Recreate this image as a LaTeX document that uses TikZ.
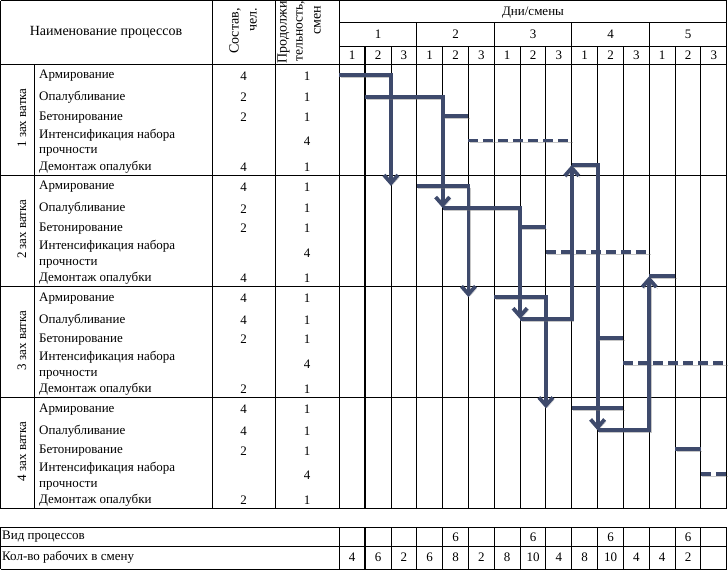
\documentclass[tikz,border=0pt]{standalone}
\usepackage{fontspec}
\setmainfont{Liberation Serif}
\usetikzlibrary{arrows.meta}
\definecolor{barc}{RGB}{62,74,108}
\begin{document}
\begin{tikzpicture}[x=1pt,y=-1pt,
  font=\fontsize{13}{15.7}\selectfont,
  grid/.style={line width=0.9pt, draw=black},
  thickgrid/.style={line width=2.2pt, draw=black},
  txt/.style={inner sep=0pt},
  hdr/.style={inner sep=0pt, font=\fontsize{14}{18}\selectfont},
  gl/.style={line width=3.8pt, draw=barc, line join=miter,
    preaction={draw=black!55, opacity=0.4, transform canvas={shift={(1.5pt,-2pt)}}}},
  arr/.style={gl, -{Straight Barb[length=8pt,width=14pt]}},
  dl/.style={gl, dash pattern=on 10pt off 5pt}]
\useasboundingbox (0,0) rectangle (728,570);

% ---------- main table lines ----------
\draw[grid] (0.6,0.6) -- (726.75,0.6);
\draw[grid] (339.3,22.7) -- (726.75,22.7);
\draw[grid] (339.3,46) -- (726.75,46);
\foreach \yy in {64,175.2,286.4,397.6,508.5} \draw[grid] (0.6,\yy) -- (726.75,\yy);
\draw[grid] (0.6,0.6) -- (0.6,508.5);
\draw[grid] (34.3,64) -- (34.3,508.5);
\draw[grid] (212.3,0.6) -- (212.3,508.5);
\draw[grid] (275,0.6) -- (275,508.5);
\draw[grid] (339.3,0.6) -- (339.3,508.5);
\draw[grid] (726.75,0.6) -- (726.75,508.5);

% ---------- bottom table lines ----------
\foreach \yy in {527.3,546,569.2} \draw[grid] (0.6,\yy) -- (726.75,\yy);
\draw[grid] (0.6,527.3) -- (0.6,569.2);
\draw[grid] (339.3,527.3) -- (339.3,569.2);
\draw[grid] (726.75,527.3) -- (726.75,569.2);

% ---------- left header ----------
\node[hdr] (hname) at (106,32) {Наименование процессов};
\node[hdr, rotate=90, align=right] (hsost) at (243,31) {Состав,\\чел.};
\begin{scope}
  \clip (275,0.6) rectangle (339.3,64);
  \node[hdr, rotate=90, anchor=west] (hprod1) at (283.5,63.5) {Продолжи};
  \node[hdr, rotate=90, anchor=west, font=\fontsize{13.5}{18}\selectfont] (hprod2) at (300.5,61.5) {тельность,};
  \node[hdr, rotate=90] (hprod3) at (317.5,20.5) {смен};
\end{scope}

% ---------- blocks ----------
\foreach \T/\sa/\sb/\sc/\sd [count=\i] in {64/4/2/2/4, 175.2/4/2/2/4, 286.4/4/4/2/2, 397.6/4/4/2/2} {
  \node[txt, rotate=90] (zah\i) at (22,{\T+54}) {\i\ зах ватка};
  \node[txt, anchor=west] (arm\i) at (39,{\T+11.8}) {Армирование};
  \node[txt, anchor=west] (opa\i) at (39,{\T+33.5}) {Опалубливание};
  \node[txt, anchor=west] (bet\i) at (39,{\T+53.2}) {Бетонирование};
  \node[txt, anchor=west, align=left] (int\i) at (39,{\T+78.8}) {Интенсификация набора\\прочности};
  \node[txt, anchor=west] (dem\i) at (39,{\T+102.8}) {Демонтаж опалубки};
  \node[txt] (sa\i) at (243.7,{\T+11.8}) {\sa};
  \node[txt] (sb\i) at (243.7,{\T+33.5}) {\sb};
  \node[txt] (sc\i) at (243.7,{\T+53.2}) {\sc};
  \node[txt] (sd\i) at (243.7,{\T+102.8}) {\sd};
  \node[txt] (pa\i) at (307.2,{\T+11.8}) {1};
  \node[txt] (pb\i) at (307.2,{\T+33.5}) {1};
  \node[txt] (pc\i) at (307.2,{\T+53.2}) {1};
  \node[txt] (pd\i) at (307.2,{\T+77.7}) {4};
  \node[txt] (pe\i) at (307.2,{\T+102.8}) {1};
}

\node[txt, anchor=west] (vid) at (2,536.8) {Вид процессов};
\node[txt, anchor=west] (kol) at (2,557) {Кол-во рабочих в смену};

% ---------- schedule grid ----------
\begin{scope}[xshift=339.3pt, x=25.83pt]
  \foreach \k in {2,4,5,7,8,10,11,13,14} \draw[grid] (\k,46) -- (\k,508.5);
  \foreach \k in {3,6,9,12} \draw[grid] (\k,22.7) -- (\k,508.5);
  \draw[thickgrid] (1,46) -- (1,508.5);
  \foreach \k in {2,...,14} \draw[grid] (\k,527.3) -- (\k,569.2);
  \draw[thickgrid] (1,527.3) -- (1,569.2);

  \node[txt] (days) at (7.5,12.8) {Дни/смены};
  \foreach \d in {1,...,5} \node[txt] (day\d) at ({3*\d-1.5},34.5) {\d};
  \foreach \d in {0,...,4} \foreach \s in {1,2,3} \node[txt] (sh\d\s) at ({3*\d+\s-0.5},55.5) {\s};

  \foreach \k in {5,8,11,14} \node[txt] (vp\k) at ({\k-0.5},536.8) {6};
  \foreach \v [count=\k] in {4,6,2,6,8,2,8,10,4,8,10,4,4,2} \node[txt] (kw\k) at ({\k-0.5},557) {\v};

  % ---------- schedule lines ----------
  \draw[arr] (0,74.7) -- (2,74.7) -- (2,185.9);
  \draw[arr] (1,96.7) -- (4,96.7) -- (4,207.9);
  \draw[gl] (4,115.7) -- (5,115.7);
  \draw[dl] (5,140.5) -- (9,140.5);

  \draw[arr] (3,185.9) -- (5,185.9) -- (5,297.1);
  \draw[arr] (4,207.9) -- (7,207.9) -- (7,319.1);
  \draw[gl] (7,226.9) -- (8,226.9);
  \draw[dl] (8,251.7) -- (12,251.7);

  \draw[arr] (6,297.1) -- (8,297.1) -- (8,408.3);
  \draw[arr] (7,319.1) -- (9,319.1) -- (9,165);
  \draw[arr] (9,165) -- (10,165) -- (10,430.3);
  \draw[gl] (10,338.1) -- (11,338.1);
  \draw[dl] (11,362.9) -- (15,362.9);

  \draw[gl] (9,408.3) -- (11,408.3);
  \draw[arr] (10,430.3) -- (12,430.3) -- (12,276.2);
  \draw[gl] (12,276.2) -- (13,276.2);
  \draw[gl] (13,449.3) -- (14,449.3);
  \draw[dl] (14,474.1) -- (15,474.1);
\end{scope}
\end{tikzpicture}
\end{document}
